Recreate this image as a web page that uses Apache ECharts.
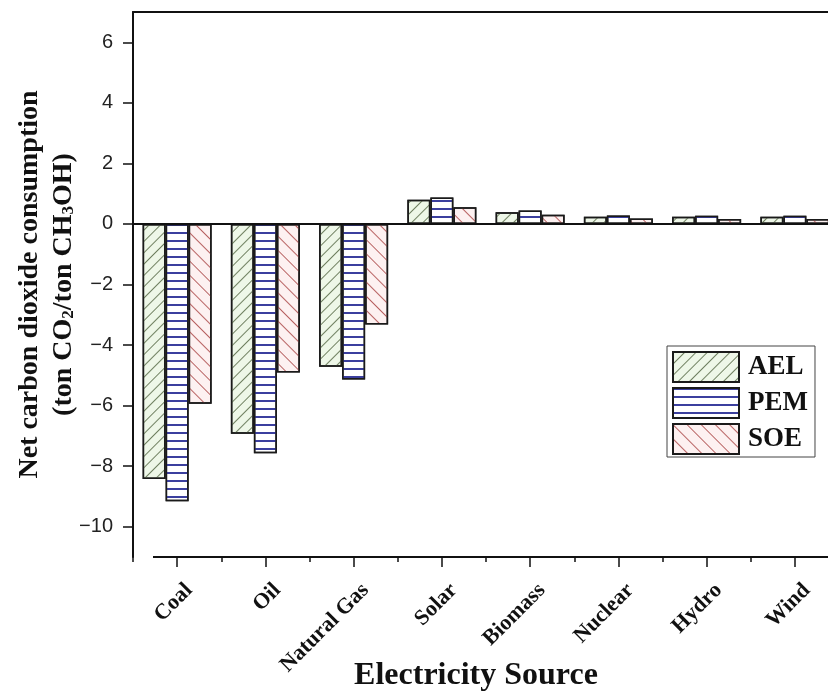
<!DOCTYPE html>
<html>
<head>
<meta charset="utf-8">
<script src="https://cdn.jsdelivr.net/npm/echarts@6/dist/echarts.min.js"></script>
<style>html,body{margin:0;padding:0;background:#fff;}#c{width:828px;height:695px;}</style>
</head>
<body>
<div id="c"></div>
<script>
const categories = ['Coal', 'Oil', 'Natural Gas', 'Solar', 'Biomass', 'Nuclear', 'Hydro', 'Wind'];
const seriesNames = ['AEL', 'PEM', 'SOE'];
const aelValues = [-8.42, -6.93, -4.72, 0.80, 0.39, 0.24, 0.24, 0.24];
const pemValues = [-9.16, -7.57, -5.14, 0.87, 0.44, 0.28, 0.27, 0.27];
const soeValues = [-5.94, -4.91, -3.32, 0.55, 0.30, 0.18, 0.16, 0.16];
const yTicks = [-10, -8, -6, -4, -2, 0, 2, 4, 6];

const serif = '"Liberation Serif", "Times New Roman", serif';
const sans = '"Liberation Sans", Arial, sans-serif';

const chart = echarts.init(document.getElementById('c'), null, {renderer: 'canvas'});

function mkSeries(name, data, fill, decal) {
  return {
    name: name,
    type: 'bar',
    data: data,
    barWidth: 23,
    barGap: '0%',
    itemStyle: {color: fill, borderColor: '#1a1a1a', borderWidth: 1.5, decal: decal},
    emphasis: {disabled: true},
    animation: false
  };
}

const series = [
  mkSeries('AEL', aelValues, '#eef7e8', {symbol: 'rect', symbolSize: 1, dashArrayX: [1, 0], dashArrayY: [1, 7], rotation: -Math.PI / 4, color: '#6f8060'}),
  mkSeries('PEM', pemValues, '#ffffff', {symbol: 'rect', symbolSize: 1, dashArrayX: [1, 0], dashArrayY: [1.2, 6], rotation: 0, color: '#3b3f9e'}),
  mkSeries('SOE', soeValues, '#fdf1f1', {symbol: 'rect', symbolSize: 1, dashArrayX: [1, 0], dashArrayY: [1, 9], rotation: Math.PI / 4, color: '#b86262'})
];
series[0].markLine = {
  silent: true, symbol: ['none', 'none'], label: {show: false},
  lineStyle: {color: '#111', width: 2, type: 'solid'},
  data: [{yAxis: 0}], animation: false
};

chart.setOption({
  backgroundColor: '#fff',
  animation: false,
  grid: {left: 133, right: -11, top: 12, bottom: 138, containLabel: false, outerBoundsMode: 'none'},
  legend: {
    orient: 'vertical', left: 667, top: 346, data: seriesNames,
    icon: 'rect',
    itemWidth: 66, itemHeight: 30, itemGap: 4,
    padding: [5, 7, 2, 5],
    borderColor: '#444', borderWidth: 1,
    textStyle: {fontFamily: serif, fontWeight: 'bold', fontSize: 27, lineHeight: 30, color: '#111', padding: [0, 0, 0, 4]},
    selectedMode: false
  },
  xAxis: [
    {
      type: 'category', data: categories, position: 'bottom',
      axisLine: {show: false, onZero: false},
      axisTick: {show: true, alignWithLabel: true, length: 10, lineStyle: {color: '#111', width: 1.5}},
      axisLabel: {rotate: 45, margin: 18, verticalAlign: 'top', padding: [6, 0, 0, 0], fontFamily: serif, fontWeight: 'bold', fontSize: 22, color: '#111', interval: 0},
      name: 'Electricity Source', nameLocation: 'middle', nameGap: 103, nameMoveOverlap: false,
      nameTextStyle: {fontFamily: serif, fontWeight: 'bold', fontSize: 32, color: '#111', padding: [0, 20, 0, 0]}
    },
    {
      type: 'category', data: categories, position: 'bottom', gridIndex: 0,
      axisLine: {show: false, onZero: false},
      axisTick: {show: true, alignWithLabel: false, length: 5, lineStyle: {color: '#111', width: 1.5}},
      axisLabel: {show: false}
    },
    {
      type: 'value', position: 'top', min: 0, max: 1,
      axisLine: {show: true, onZero: false, lineStyle: {color: '#111', width: 2}},
      axisTick: {show: false}, axisLabel: {show: false}, splitLine: {show: false}
    }
  ],
  yAxis: {
    type: 'value', min: -11, max: 7, interval: 2,
    axisLine: {show: true, onZero: false, lineStyle: {color: '#111', width: 2}},
    axisTick: {show: true, length: 10, lineStyle: {color: '#111', width: 1.5},
      customValues: yTicks},
    minorTick: {show: true, splitNumber: 2, length: 5, lineStyle: {color: '#111', width: 1.5}},
    splitLine: {show: false},
    minorSplitLine: {show: false},
    axisLabel: {
      customValues: yTicks,
      margin: 20, fontFamily: sans, fontSize: 20, color: '#222',
      formatter: v => String(v).replace('-', '\u2212')
    },
    name: 'Net carbon dioxide consumption\n(ton CO{sub|2}/ton CH{sub|3}OH)',
    nameLocation: 'middle', nameGap: 52, nameRotate: 90, nameMoveOverlap: false,
    nameTextStyle: {
      fontFamily: serif, fontWeight: 'bold', fontSize: 28, color: '#111', lineHeight: 34,
      rich: {
        sub: {fontFamily: serif, fontWeight: 'bold', fontSize: 17, lineHeight: 17, verticalAlign: 'bottom', color: '#111', padding: [0, 0, 4, 0]}
      }
    }
  },
  series: series
});

// bottom axis line, starting a little to the right of the y axis (as in the original)
const p0 = chart.convertToPixel({xAxisIndex: 0, yAxisIndex: 0}, [0, -11]);
chart.setOption({
  graphic: [{
    type: 'line', silent: true,
    shape: {x1: 153, y1: p0[1], x2: 828, y2: p0[1]},
    style: {stroke: '#111', lineWidth: 2}
  }]
});
</script>
</body>
</html>
